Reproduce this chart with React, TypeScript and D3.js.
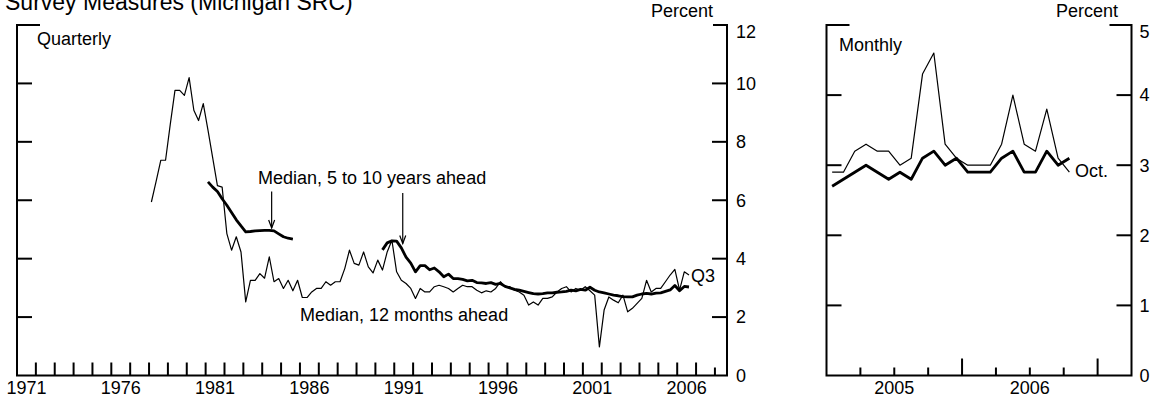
import React from "react";
import * as d3 from "d3";

// ---------- DATA ----------
// Quarterly series, 1978Q1 .. 2006Q3 (115 quarters)
const quarterStartYear = 1978;
const twelveMonthQ: number[] = [
  5.94, 6.65, 7.37, 7.37, 8.6, 9.76, 9.76, 9.59, 10.2, 9.08, 8.73, 9.31,
  8.4, 7.45, 6.5, 6.45, 4.86, 4.29, 4.75, 4.23, 2.52, 3.26, 3.26, 3.49,
  3.33, 4.06, 3.21, 3.32, 2.98, 3.26, 2.9, 3.26, 2.67, 2.67, 2.86, 2.98,
  2.98, 3.21, 3.09, 3.21, 3.21, 3.66, 4.29, 3.84, 3.78, 4.23, 3.72, 3.51,
  3.95, 3.61, 4.23, 4.63, 3.55, 3.26, 3.15, 2.98, 2.64, 2.98, 2.86, 2.86,
  3.04, 3.09, 3.04, 2.98, 2.86, 2.98, 3.09, 3.04, 3.04, 2.92, 2.83, 2.9,
  2.86, 2.98, 3.21, 3.04, 3.04, 2.92, 2.86, 2.75, 2.41, 2.52, 2.41, 2.64,
  2.64, 2.69, 2.86, 2.98, 3.04, 2.86, 2.98, 2.92, 3.04, 2.9, 2.75, 0.98,
  2.24, 2.69, 2.58, 2.49, 2.75, 2.18, 2.3, 2.47, 2.64, 3.26, 2.86, 2.98,
  2.98, 3.21, 3.44, 3.63, 2.92, 3.55, 3.44,
];
const fiveTenQ: (number | null)[] = [
  null, null, null, null, null, null, null, null, null, null, null, null,
  6.63, 6.45, 6.3, 6.05, 5.83, 5.58, 5.33, 5.12, 4.92, 4.93, 4.95, 4.96,
  4.97, 4.97, 4.95, 4.85, 4.75, 4.7, 4.67, null, null, null, null, null,
  null, null, null, null, null, null, null, null, null, null, null, null,
  null, 4.3, 4.54, 4.61, 4.6, 4.37, 4.05, 3.85, 3.55, 3.76, 3.76, 3.62,
  3.68, 3.55, 3.38, 3.47, 3.32, 3.32, 3.29, 3.24, 3.26, 3.18, 3.17, 3.15,
  3.18, 3.12, 3.15, 3.05, 3.0, 2.95, 2.92, 2.88, 2.84, 2.8, 2.79, 2.8,
  2.83, 2.83, 2.85, 2.86, 2.88, 2.92, 2.9, 2.95, 2.92, 3.02, 2.92, 2.86,
  2.83, 2.79, 2.75, 2.73, 2.7, 2.69, 2.69, 2.75, 2.79, 2.81, 2.79, 2.82,
  2.83, 2.88, 2.93, 3.08, 2.9, 3.05, 3.03,
];

// Monthly series, Jan 2005 .. Oct 2006
const months: string[] = [
  "2005-01", "2005-02", "2005-03", "2005-04", "2005-05", "2005-06",
  "2005-07", "2005-08", "2005-09", "2005-10", "2005-11", "2005-12",
  "2006-01", "2006-02", "2006-03", "2006-04", "2006-05", "2006-06",
  "2006-07", "2006-08", "2006-09", "2006-10",
];
const twelveMonthM: number[] = [
  2.9, 2.9, 3.2, 3.3, 3.2, 3.2, 3.0, 3.1, 4.3, 4.6, 3.3, 3.1,
  3.0, 3.0, 3.0, 3.3, 4.0, 3.3, 3.2, 3.8, 3.1, 2.9,
];
const fiveTenM: number[] = [
  2.7, 2.8, 2.9, 3.0, 2.9, 2.8, 2.9, 2.8, 3.1, 3.2, 3.0, 3.1,
  2.9, 2.9, 2.9, 3.1, 3.2, 2.9, 2.9, 3.2, 3.0, 3.1,
];

// Tick labels
const leftYearLabels: number[] = [1971, 1976, 1981, 1986, 1991, 1996, 2001, 2006];
const leftYTicks: number[] = [0, 2, 4, 6, 8, 10, 12];
const rightYearLabels: number[] = [2005, 2006];
const rightYTicks: number[] = [0, 1, 2, 3, 4, 5];

// ---------- LAYOUT ----------
const W = 1156;
const H = 407;
const FONT = "Arial, 'Liberation Sans', Helvetica, sans-serif";

const xL = d3.scaleLinear().domain([1971, 2008.64]).range([17, 727]);
const yL = d3.scaleLinear().domain([0, 12]).range([375.5, 25]);
const xR = d3.scaleLinear().domain([2005, 2007.25]).range([826.5, 1131.5]);
const yR = d3.scaleLinear().domain([0, 5]).range([375.5, 25]);

type P = { t: number; v: number | null };
const qData = (arr: (number | null)[]): P[] =>
  arr.map((v, i) => ({ t: quarterStartYear + i / 4 + 0.125, v }));
const mData = (arr: number[]): P[] =>
  months.map((m, i) => {
    const [y, mo] = m.split("-").map(Number);
    return { t: y + (mo - 1 + 0.5) / 12, v: arr[i] };
  });

const lineL = d3
  .line<P>()
  .defined((d) => d.v !== null)
  .x((d) => xL(d.t))
  .y((d) => yL(d.v as number));
const lineR = d3
  .line<P>()
  .x((d) => xR(d.t))
  .y((d) => yR(d.v as number));

const Arrow = ({ x, y1, y2 }: { x: number; y1: number; y2: number }) => (
  <g stroke="#000" strokeWidth={1.2} fill="none">
    <line x1={x} y1={y1} x2={x} y2={y2} />
    <path d={`M${x - 3},${y2 - 8} L${x},${y2} L${x + 3},${y2 - 8}`} />
  </g>
);

export default function App() {
  const leftYearTicks = d3.range(1972, 2009);
  const rightQTicks = [2005.25, 2005.5, 2005.75, 2006, 2006.25, 2006.5, 2006.75, 2007];
  const axisW = 2;

  const lx0 = xL.range()[0];
  const lx1 = xL.range()[1];
  const rx0 = xR.range()[0];
  const rx1 = xR.range()[1];
  const top = yL.range()[1];
  const bot = yL.range()[0];

  const a1x = xL(1984.5);
  const a2x = xL(1991.45);
  const yearLabelY = 394;

  return (
    <svg
      width={W}
      height={H}
      style={{ position: "absolute", left: 0, top: 0, background: "#fff" }}
      fontFamily={FONT}
    >
      <rect x={0} y={0} width={W} height={H} fill="#fff" />
      {/* Title (clipped at top, as in the source) */}
      <text x={5} y={10} fontSize={23} fill="#000">
        Survey Measures (Michigan SRC)
      </text>

      {/* ---------- LEFT PANEL ---------- */}
      <g stroke="#000" strokeWidth={axisW} fill="none">
        <path d={`M${lx0 + 23},${top} H${lx0} V${bot} H${lx1} V${top} H${lx1 - 14}`} />
        {leftYTicks
          .filter((v) => v > 0 && v < 12)
          .map((v) => (
            <g key={v}>
              <line x1={lx0} x2={lx0 + 15} y1={yL(v)} y2={yL(v)} />
              <line x1={lx1 - 15} x2={lx1} y1={yL(v)} y2={yL(v)} />
            </g>
          ))}
        {leftYearTicks.map((yr) => (
          <line
            key={yr}
            x1={xL(yr)}
            x2={xL(yr)}
            y1={bot}
            y2={bot - (yr === 2008 ? 8 : 13)}
          />
        ))}
      </g>
      <g fontSize={18} fill="#000">
        {leftYTicks.map((v) => (
          <text
            key={v}
            x={lx1 + 9}
            y={v === 12 ? yL(v) + 7 : yL(v)}
            dy="0.35em"
          >
            {v}
          </text>
        ))}
        {leftYearLabels.map((yr) => (
          <text key={yr} x={xL(yr + 0.5)} y={yearLabelY} textAnchor="middle">
            {yr}
          </text>
        ))}
        <text x={713} y={17} textAnchor="end">Percent</text>
        <text x={37} y={45}>Quarterly</text>
        <text x={258} y={184}>Median, 5 to 10 years ahead</text>
        <text x={300} y={321}>Median, 12 months ahead</text>
        <text x={691} y={282}>Q3</text>
      </g>
      <path d={lineL(qData(twelveMonthQ)) || ""} fill="none" stroke="#000" strokeWidth={1.2} strokeLinejoin="round" />
      <path d={lineL(qData(fiveTenQ)) || ""} fill="none" stroke="#000" strokeWidth={2.8} strokeLinejoin="round" />
      <Arrow x={a1x} y1={yL(6.3)} y2={yL(5.05)} />
      <Arrow x={a2x} y1={yL(6.25)} y2={yL(4.52)} />

      {/* ---------- RIGHT PANEL ---------- */}
      <g stroke="#000" strokeWidth={axisW} fill="none">
        <path d={`M${rx0 + 23},${top} H${rx0} V${bot} H${rx1} V${top} H${rx1 - 22}`} />
        {rightYTicks
          .filter((v) => v > 0 && v < 5)
          .map((v) => (
            <g key={v}>
              <line x1={rx0} x2={rx0 + 15} y1={yR(v)} y2={yR(v)} />
              <line x1={rx1 - 15} x2={rx1} y1={yR(v)} y2={yR(v)} />
            </g>
          ))}
        {rightQTicks.map((t) => (
          <line
            key={t}
            x1={xR(t)}
            x2={xR(t)}
            y1={bot}
            y2={bot - (Number.isInteger(t) ? 17 : 8)}
          />
        ))}
      </g>
      <g fontSize={18} fill="#000">
        {rightYTicks.map((v) => (
          <text
            key={v}
            x={rx1 + 8}
            y={v === 5 ? yR(v) + 7 : yR(v)}
            dy="0.35em"
          >
            {v}
          </text>
        ))}
        {rightYearLabels.map((yr) => (
          <text key={yr} x={xR(yr + 0.5)} y={yearLabelY} textAnchor="middle">
            {yr}
          </text>
        ))}
        <text x={1118} y={17} textAnchor="end">Percent</text>
        <text x={839} y={51}>Monthly</text>
        <text x={1075} y={177}>Oct.</text>
      </g>
      <path d={lineR(mData(twelveMonthM)) || ""} fill="none" stroke="#000" strokeWidth={1.2} strokeLinejoin="round" />
      <path d={lineR(mData(fiveTenM)) || ""} fill="none" stroke="#000" strokeWidth={2.8} strokeLinejoin="round" />
    </svg>
  );
}
